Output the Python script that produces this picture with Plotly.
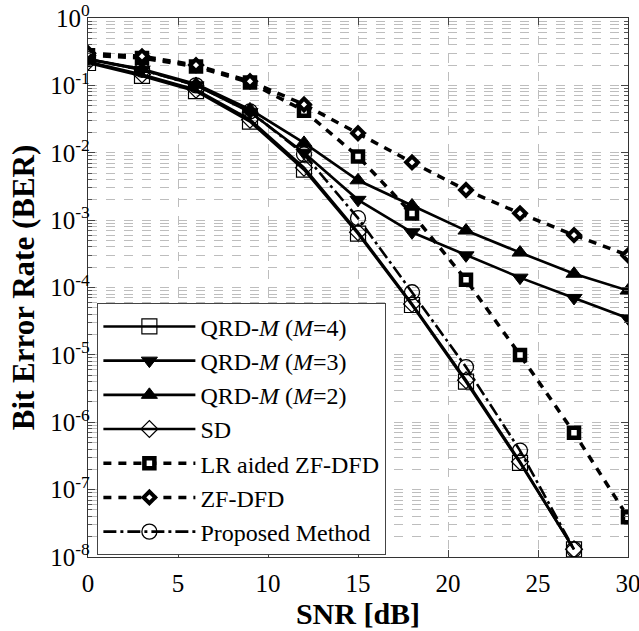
import plotly.graph_objects as go

snr = [0, 3, 6, 9, 12, 15, 18, 21, 24, 27, 30]

ber_qrdm4 = [0.215, 0.138, 0.082, 0.029, 0.0056, 6.3e-4, 5.5e-5, 4.0e-6, 2.5e-7, 1.3e-8]
ber_qrdm3 = [0.245, 0.170, 0.100, 0.040, 0.0100, 2.0e-3, 6.6e-4, 3.0e-4, 1.4e-4, 7.0e-5, 3.5e-5]
ber_qrdm2 = [0.245, 0.175, 0.105, 0.044, 0.0140, 3.9e-3, 1.65e-3, 7.0e-4, 3.3e-4, 1.6e-4, 9.0e-5]
ber_sd = [0.225, 0.145, 0.086, 0.031, 0.0060, 6.6e-4, 5.7e-5, 4.2e-6, 2.6e-7, 1.3e-8]
ber_lr = [0.28, 0.255, 0.19, 0.11, 0.042, 0.0088, 1.25e-3, 1.3e-4, 1.0e-5, 7.0e-7, 3.9e-8]
ber_zf = [0.30, 0.27, 0.20, 0.115, 0.052, 0.0195, 7.2e-3, 2.8e-3, 1.26e-3, 6.0e-4, 3.0e-4]
ber_prop = [0.245, 0.170, 0.100, 0.041, 0.0095, 1.07e-3, 8.5e-5, 6.6e-6, 3.8e-7, 1.3e-8]

names = ["QRD-<i>M</i> (<i>M</i>=4)", "QRD-<i>M</i> (<i>M</i>=3)", "QRD-<i>M</i> (<i>M</i>=2)",
         "SD", "LR aided ZF-DFD", "ZF-DFD", "Proposed Method"]

ytick_vals = [1, 1e-1, 1e-2, 1e-3, 1e-4, 1e-5, 1e-6, 1e-7, 1e-8]
ytick_text = ["10<sup>0</sup>", "10<sup>-1</sup>", "10<sup>-2</sup>", "10<sup>-3</sup>",
              "10<sup>-4</sup>", "10<sup>-5</sup>", "10<sup>-6</sup>", "10<sup>-7</sup>",
              "10<sup>-8</sup>"]
xtick_vals = [0, 5, 10, 15, 20, 25, 30]

FONT = "Liberation Serif, Times New Roman, serif"
fig = go.Figure()

def add(y, name, symbol, dash, fill, lw_marker, size, lw=2.6):
    fig.add_trace(go.Scatter(
        x=snr[:len(y)], y=y, name=name, mode="lines+markers",
        line=dict(color="black", width=lw, dash=dash),
        marker=dict(symbol=symbol, size=size, color=fill,
                    line=dict(color="black", width=lw_marker)),
    ))

add(ber_qrdm4, names[0], "square", "solid", "rgba(255,255,255,0)", 1.2, 15)
add(ber_qrdm3, names[1], "triangle-down", "solid", "black", 1, 14)
add(ber_qrdm2, names[2], "triangle-up", "solid", "black", 1, 14)
add(ber_sd, names[3], "diamond", "solid", "rgba(255,255,255,0)", 1.2, 13)
add(ber_lr, names[4], "square", "8px,7px", "white", 4.5, 10, lw=3.5)
add(ber_zf, names[5], "diamond", "8px,7px", "white", 4, 9, lw=3.5)
add(ber_prop, names[6], "circle", "13px,4px,3px,4px", "rgba(255,255,255,0)", 1.3, 15)

grid = "#bdbdbd"
fig.update_layout(
    width=639, height=631,
    margin=dict(l=88, r=11, t=18, b=74),
    paper_bgcolor="white", plot_bgcolor="white",
    font=dict(family=FONT, size=24, color="black"),
    showlegend=True,
    legend=dict(
        x=0.017, y=0.471, xanchor="left", yanchor="top",
        bgcolor="white", bordercolor="#444", borderwidth=1.2,
        font=dict(family=FONT, size=24, color="black"),
        itemwidth=92, tracegroupgap=0,
    ),
    xaxis=dict(
        range=[0, 30], tickvals=xtick_vals, ticks="inside", ticklen=7,
        showline=True, linecolor="#333", linewidth=1.3, mirror="ticks",
        showgrid=True, gridcolor=grid, griddash="dash", gridwidth=1,
        zeroline=False, automargin=False, ticklabelstandoff=4,
        ticklabeloverflow="allow",
        tickfont=dict(family=FONT, size=25),
        title=dict(text="<b>SNR [dB]</b>", font=dict(family=FONT, size=30), standoff=0),
    ),
    yaxis=dict(
        type="log", range=[-8, 0], tickmode="array", tickvals=ytick_vals, ticktext=ytick_text,
        ticks="inside", ticklen=7,
        showline=True, linecolor="#333", linewidth=1.3, mirror="ticks",
        showgrid=True, gridcolor=grid, griddash="dash", gridwidth=1,
        zeroline=False, automargin=False, ticklabelstandoff=-8,
        ticklabeloverflow="allow",
        minor=dict(dtick="D1", ticks="inside", ticklen=4, tickcolor="#555",
                   showgrid=True, gridcolor=grid, griddash="dash", gridwidth=1),
        tickfont=dict(family=FONT, size=25),
        title=dict(text="<b>Bit Error Rate (BER)</b>", font=dict(family=FONT, size=31), standoff=6),
    ),
)

fig.write_html("out.html", config={"displayModeBar": False},
               post_script="document.body.style.margin='0px';")
